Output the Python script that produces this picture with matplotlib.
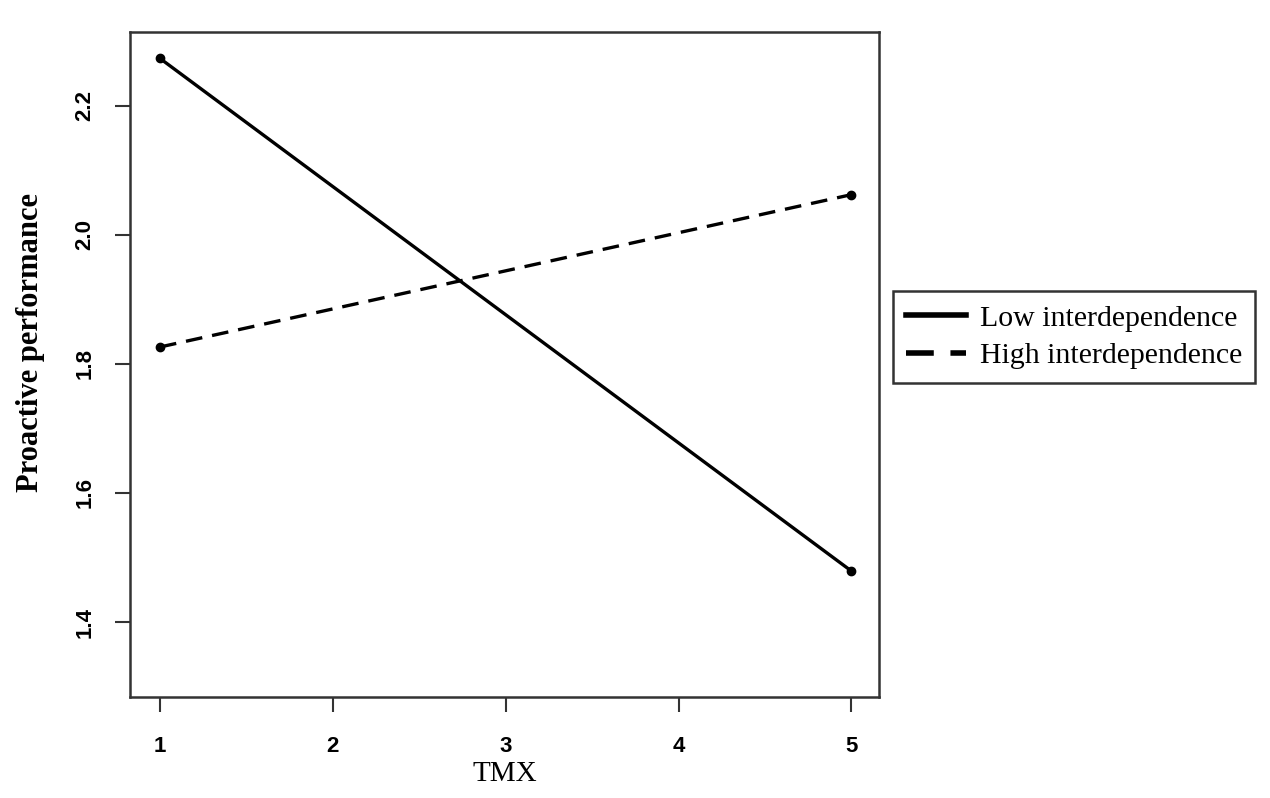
import matplotlib
matplotlib.use("Agg")
import matplotlib.pyplot as plt

# values
tmx = [1, 5]
low_interdep = [2.273, 1.479]
high_interdep = [1.826, 2.062]
xticks = [1, 2, 3, 4, 5]
yticks = [1.4, 1.6, 1.8, 2.0, 2.2]

fig = plt.figure(figsize=(12.7, 7.98), dpi=100)
ax = fig.add_axes([0.1024, 0.1266, 0.5898, 0.8334])

ax.plot(tmx, low_interdep, "k-", linewidth=2.4, marker="o", markersize=6,
        label="Low interdependence")
ax.plot(tmx, high_interdep, "k--", linewidth=2.4, marker="o", markersize=6,
        dashes=(5, 3), label="High interdependence")

ax.set_xlim(0.827, 5.16)
ax.set_ylim(1.284, 2.314)
ax.set_xticks(xticks)
ax.set_yticks(yticks)
ax.set_xticklabels([str(v) for v in xticks], fontsize=16, fontweight="bold",
                   family="Liberation Sans")
ax.set_yticklabels(["%.1f" % v for v in yticks], fontsize=16, fontweight="bold",
                   family="Liberation Sans", rotation=90, va="center")
ax.tick_params(axis="both", direction="out", length=11, width=1.5, color="#333333")
ax.tick_params(axis="x", pad=17)
ax.tick_params(axis="y", pad=14)

for sp in ax.spines.values():
    sp.set_linewidth(1.8)
    sp.set_color("#333333")

ax.set_xlabel("TMX", fontsize=21, family="Liberation Serif", labelpad=3)
fig.text(31 / 1270, 1 - 343 / 798, "Proactive performance", fontsize=22,
         fontweight="bold", family="Liberation Serif", rotation=90,
         ha="center", va="center")

leg = ax.legend(loc="center left", bbox_to_anchor=(893 / 1270, 1 - 337 / 798),
                bbox_transform=fig.transFigure, frameon=True, fancybox=False,
                edgecolor="black", handlelength=2.0, handletextpad=0.45,
                borderpad=0.45, labelspacing=0.35, borderaxespad=0,
                prop={"family": "Liberation Serif", "size": 21.5})
leg.get_frame().set_linewidth(1.8)
for h in leg.get_lines():
    h.set_marker("")
    h.set_linewidth(4)

fig.savefig("out.png", dpi=100)
